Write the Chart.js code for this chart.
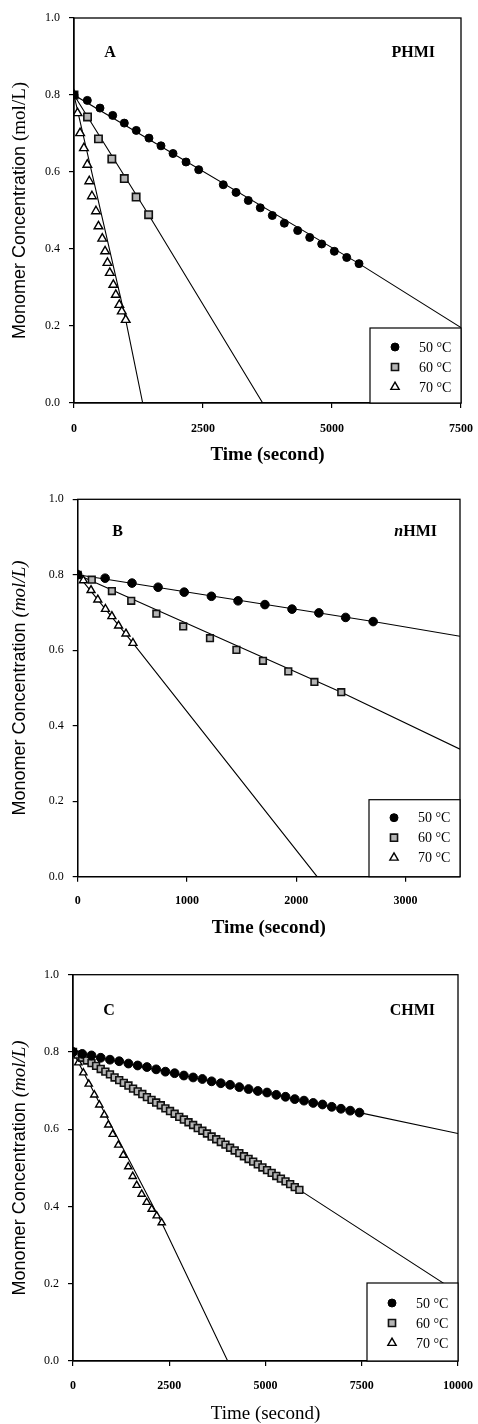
<!DOCTYPE html>
<html>
<head>
<meta charset="utf-8">
<script src="https://cdn.jsdelivr.net/npm/chart.js@4.4.0/dist/chart.umd.min.js"></script>
<style>
  body { margin: 0; background: #fff; width: 478px; height: 1424px; overflow: hidden; }
  .panel { position: absolute; left: 0; width: 478px; }
</style>
</head>
<body>
<div class="panel" style="top:0;height:470px"><canvas id="chartA"></canvas></div>
<div class="panel" style="top:475px;height:470px"><canvas id="chartB"></canvas></div>
<div class="panel" style="top:950px;height:474px"><canvas id="chartC"></canvas></div>
<script>
var seriesNames = ["50 °C", "60 °C", "70 °C"];
var yTicks = [0, 0.2, 0.4, 0.6, 0.8, 1.0];

// panel A - PHMI
var tA50 = [0, 258, 504, 750, 975, 1207, 1453, 1686, 1919, 2171, 2417, 2893, 3140, 3378, 3610, 3843, 4076, 4335, 4568, 4800, 5045, 5285, 5523];
var cA50 = [0.800, 0.786, 0.766, 0.747, 0.727, 0.708, 0.688, 0.668, 0.648, 0.626, 0.606, 0.567, 0.547, 0.526, 0.507, 0.487, 0.467, 0.448, 0.430, 0.413, 0.394, 0.378, 0.362];
var tA60 = [0, 262, 474, 733, 975, 1204, 1446];
var cA60 = [0.800, 0.743, 0.686, 0.634, 0.583, 0.535, 0.489];
var tA70 = [0, 68, 118, 192, 258, 296, 348, 426, 474, 548, 602, 648, 694, 762, 810, 878, 926, 1002];
var cA70 = [0.800, 0.753, 0.701, 0.662, 0.619, 0.576, 0.537, 0.498, 0.459, 0.427, 0.394, 0.364, 0.338, 0.307, 0.281, 0.255, 0.238, 0.216];
var fitTA = [[0, 5523, 7500], [0, 1446, 3657], [0, 1002, 1331]];
var fitCA = [[0.8, 0.362, 0.196], [0.8, 0.489, 0], [0.8, 0.216, 0]];
var xTicksA = [0, 2500, 5000, 7500];

// panel B - nHMI
var tB50 = [0, 251, 497, 736, 975, 1224, 1468, 1714, 1962, 2208, 2453, 2705];
var cB50 = [0.800, 0.791, 0.778, 0.767, 0.754, 0.743, 0.731, 0.721, 0.709, 0.699, 0.687, 0.676];
var tB60 = [0, 129, 313, 490, 720, 966, 1211, 1453, 1696, 1928, 2167, 2413];
var cB60 = [0.800, 0.787, 0.757, 0.731, 0.697, 0.663, 0.632, 0.601, 0.572, 0.544, 0.516, 0.489];
var tB70 = [0, 52, 122, 184, 254, 313, 374, 442, 506];
var cB70 = [0.800, 0.785, 0.759, 0.734, 0.709, 0.690, 0.665, 0.644, 0.619];
var fitTB = [[0, 2705, 3500], [0, 2413, 3500], [0, 506, 2192]];
var fitCB = [[0.8, 0.676, 0.637], [0.8, 0.489, 0.338], [0.8, 0.619, 0]];
var xTicksB = [0, 1000, 2000, 3000];

// panel C - CHMI
var tC50 = [0, 240, 480, 720, 960, 1200, 1440, 1680, 1920, 2160, 2400, 2640, 2880, 3120, 3360, 3600, 3840, 4080, 4320, 4560, 4800, 5040, 5280, 5520, 5760, 6000, 6240, 6480, 6720, 6960, 7200, 7440];
var cC50 = [0.800, 0.795, 0.791, 0.785, 0.780, 0.776, 0.770, 0.765, 0.761, 0.755, 0.749, 0.745, 0.739, 0.734, 0.730, 0.724, 0.719, 0.715, 0.709, 0.704, 0.699, 0.695, 0.689, 0.684, 0.678, 0.674, 0.668, 0.664, 0.658, 0.653, 0.648, 0.643];
var tC60 = [0, 120, 240, 360, 480, 600, 720, 840, 960, 1080, 1200, 1320, 1440, 1560, 1680, 1800, 1920, 2040, 2160, 2280, 2400, 2520, 2640, 2760, 2880, 3000, 3120, 3240, 3360, 3480, 3600, 3720, 3840, 3960, 4080, 4200, 4320, 4440, 4560, 4680, 4800, 4920, 5040, 5160, 5280, 5400, 5520, 5640, 5760, 5880];
var cC60 = [0.800, 0.793, 0.785, 0.778, 0.771, 0.764, 0.756, 0.749, 0.742, 0.734, 0.727, 0.720, 0.713, 0.705, 0.698, 0.691, 0.683, 0.676, 0.669, 0.662, 0.654, 0.647, 0.640, 0.632, 0.625, 0.618, 0.611, 0.603, 0.596, 0.589, 0.581, 0.574, 0.567, 0.560, 0.552, 0.545, 0.538, 0.530, 0.523, 0.516, 0.509, 0.501, 0.494, 0.487, 0.479, 0.472, 0.465, 0.458, 0.450, 0.443];
var tC70 = [0, 138, 268, 408, 553, 683, 813, 917, 1031, 1177, 1306, 1436, 1551, 1655, 1784, 1914, 2044, 2174, 2304];
var cC70 = [0.800, 0.772, 0.746, 0.717, 0.689, 0.663, 0.637, 0.611, 0.587, 0.559, 0.533, 0.503, 0.478, 0.455, 0.432, 0.411, 0.393, 0.376, 0.358];
var fitTC = [[0, 7440, 10000], [0, 5880, 10000], [0, 2304, 4018]];
var fitCC = [[0.8, 0.643, 0.589], [0.8, 0.443, 0.177], [0.8, 0.358, 0]];
var xTicksC = [0, 2500, 5000, 7500, 10000];

var markerStyles = [
  { style: 'circle', fill: '#000', stroke: '#000', bw: 1 },
  { style: 'rect', fill: '#b5b5b5', stroke: '#111', bw: 1.6 },
  { style: 'triangle', fill: '#fff', stroke: '#000', bw: 1.4 }
];

function pts(t, c) {
  return t.map(function (v, i) { return { x: v, y: c[i] }; });
}

// frame, panel labels, y title and legend box
var decor = {
  id: 'decor',
  afterDraw: function (chart) {
    var o = chart.options.plugins.decor;
    var a = chart.chartArea;
    var ctx = chart.ctx;
    ctx.save();
    ctx.strokeStyle = '#000';
    ctx.lineWidth = 1.3;
    ctx.strokeRect(a.left, a.top, a.right - a.left, a.bottom - a.top);

    ctx.fillStyle = '#000';
    ctx.textBaseline = 'middle';
    ctx.font = 'bold 16px "Liberation Serif"';
    ctx.textAlign = 'center';
    ctx.fillText(o.letter, a.left + o.letterDx, a.top + o.labelDy);
    ctx.textAlign = 'right';
    var rx = a.right - o.nameDx;
    if (o.italicPrefix) {
      ctx.fillText(o.name, rx, a.top + o.labelDy);
      var w = ctx.measureText(o.name).width;
      ctx.font = 'italic bold 16px "Liberation Serif"';
      ctx.fillText(o.italicPrefix, rx - w, a.top + o.labelDy);
    } else {
      ctx.fillText(o.name, rx, a.top + o.labelDy);
    }

    // y axis title: sans part + serif unit
    var part1 = 'Monomer Concentration ';
    var part2 = '(mol/L)';
    var f1 = '18px "Liberation Sans"';
    var f2 = (o.unitItalic ? 'italic ' : '') + '19px "Liberation Serif"';
    ctx.font = f1;
    var w1 = ctx.measureText(part1).width;
    ctx.font = f2;
    var w2 = ctx.measureText(part2).width;
    ctx.translate(20, (a.top + a.bottom) / 2);
    ctx.rotate(-Math.PI / 2);
    ctx.textAlign = 'left';
    ctx.textBaseline = 'middle';
    ctx.fillStyle = '#000';
    ctx.font = f1;
    ctx.fillText(part1, -(w1 + w2) / 2, 0);
    ctx.font = f2;
    ctx.fillText(part2, -(w1 + w2) / 2 + w1, 0);
    ctx.setTransform(1, 0, 0, 1, 0, 0);

    // legend
    var bx = a.right - 91, by = a.bottom - o.legendH;
    ctx.fillStyle = '#fff';
    ctx.fillRect(bx, by, 91, o.legendH);
    ctx.strokeStyle = '#000';
    ctx.lineWidth = 1.2;
    ctx.strokeRect(bx, by, 91, o.legendH);
    ctx.font = '14px "Liberation Serif"';
    ctx.textAlign = 'left';
    for (var i = 0; i < 3; i++) {
      var yy = by + o.legendRow0 + i * 20;
      var m = markerStyles[i];
      ctx.fillStyle = m.fill;
      ctx.strokeStyle = m.stroke;
      ctx.lineWidth = m.bw;
      Chart.helpers.drawPoint(ctx, { pointStyle: m.style, radius: o.legendR[i], rotation: 0, borderWidth: m.bw }, bx + 25, yy);
      ctx.fillStyle = '#000';
      ctx.fillText(seriesNames[i], bx + 49, yy + 1);
    }
    ctx.restore();
  }
};

function makeChart(id, p) {
  var datasets = [];
  p.series.forEach(function (s, i) {
    var m = markerStyles[i];
    datasets.push({
      label: seriesNames[i],
      data: pts(s[0], s[1]),
      showLine: false,
      pointStyle: m.style,
      pointRadius: p.radius[i],
      pointBackgroundColor: m.fill,
      pointBorderColor: m.stroke,
      pointBorderWidth: m.bw
    });
  });
  p.fitT.forEach(function (ft, i) {
    datasets.push({
      data: pts(ft, p.fitC[i]),
      showLine: true,
      borderColor: '#000',
      borderWidth: 1.1,
      pointRadius: 0,
      fill: false
    });
  });

  return new Chart(id, {
    type: 'scatter',
    data: { datasets: datasets },
    options: {
      animation: false,
      responsive: true,
      maintainAspectRatio: false,
      devicePixelRatio: 1,
      layout: { padding: { top: p.padTop, right: p.padRight, left: 0, bottom: 0 } },
      plugins: {
        legend: { display: false },
        tooltip: { enabled: false },
        decor: p.decor
      },
      scales: {
        x: {
          type: 'linear',
          min: 0,
          max: p.xMax,
          afterBuildTicks: function (scale) {
            scale.ticks = p.xTicks.map(function (v) { return { value: v }; });
          },
          afterFit: function (scale) {
            scale.height = p.xAxisH;
            scale.paddingLeft = 0;
            scale.paddingRight = 0;
          },
          grid: { drawOnChartArea: false, drawTicks: true, tickLength: 5, color: '#000', lineWidth: 1.2 },
          border: { display: true, color: '#000', width: 1.3 },
          ticks: {
            color: '#000',
            padding: p.xTickPad,
            maxRotation: 0,
            font: { family: '"Liberation Serif"', size: 12, weight: 'bold' },
            callback: function (v) { return String(v); }
          },
          title: {
            display: true,
            text: 'Time (second)',
            color: '#000',
            font: { family: '"Liberation Serif"', size: 19, weight: p.titleWeight, lineHeight: 1 },
            padding: { top: 0, bottom: p.xTitlePad }
          }
        },
        y: {
          type: 'linear',
          min: 0,
          max: 1,
          afterBuildTicks: function (scale) {
            scale.ticks = yTicks.map(function (v) { return { value: v }; });
          },
          afterFit: function (scale) {
            scale.width = p.yAxisW;
            scale.paddingTop = 0;
            scale.paddingBottom = 0;
          },
          grid: { drawOnChartArea: false, drawTicks: true, tickLength: 5, color: '#000', lineWidth: 1.2 },
          border: { display: true, color: '#000', width: 1.3 },
          ticks: {
            color: '#000',
            padding: 9,
            font: { family: '"Liberation Serif"', size: 12 },
            callback: function (v) { return Number(v).toFixed(1); }
          }
        }
      }
    },
    plugins: [decor]
  });
}

makeChart('chartA', {
  series: [[tA50, cA50], [tA60, cA60], [tA70, cA70]],
  fitT: fitTA, fitC: fitCA,
  radius: [4, 5.2, 5],
  xMax: 7500, xTicks: xTicksA,
  padTop: 18, padRight: 17, yAxisW: 74, xAxisH: 67, xTickPad: 14, xTitlePad: 5.5,
  titleWeight: 'bold',
  decor: { letter: 'A', name: 'PHMI', letterDx: 36, nameDx: 26, labelDy: 35, legendH: 75, legendRow0: 19, legendR: [4, 5, 4.8], unitItalic: false }
});

makeChart('chartB', {
  series: [[tB50, cB50], [tB60, cB60], [tB70, cB70]],
  fitT: fitTB, fitC: fitCB,
  radius: [4.3, 4.7, 4.6],
  xMax: 3500, xTicks: xTicksB,
  padTop: 24.3, padRight: 18, yAxisW: 77.7, xAxisH: 68.3, xTickPad: 12.3, xTitlePad: 7.5,
  titleWeight: 'bold',
  decor: { letter: 'B', name: 'HMI', italicPrefix: 'n', letterDx: 40, nameDx: 23, labelDy: 32.4, legendH: 77, legendRow0: 18, legendR: [4, 5, 4.8], unitItalic: true }
});

makeChart('chartC', {
  series: [[tC50, cC50], [tC60, cC60], [tC70, cC70]],
  fitT: fitTC, fitC: fitCC,
  radius: [4.4, 4.8, 4.2],
  xMax: 10000, xTicks: xTicksC,
  padTop: 24.7, padRight: 20, yAxisW: 73, xAxisH: 63, xTickPad: 13, xTitlePad: 0,
  titleWeight: 'normal',
  decor: { letter: 'C', name: 'CHMI', letterDx: 36, nameDx: 23, labelDy: 36.3, legendH: 78, legendRow0: 20, legendR: [4, 5, 4.8], unitItalic: true }
});
</script>
</body>
</html>
